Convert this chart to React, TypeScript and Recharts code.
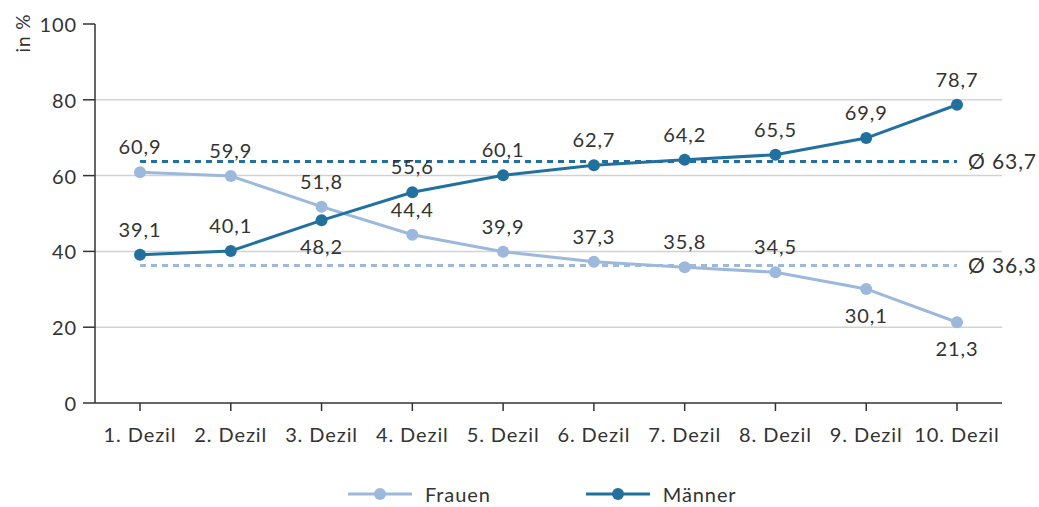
import React from "react";
import {
  LineChart,
  Line,
  XAxis,
  YAxis,
  CartesianGrid,
  ReferenceLine,
  LabelList,
  Legend,
} from "recharts";

const deciles = [
  "1. Dezil",
  "2. Dezil",
  "3. Dezil",
  "4. Dezil",
  "5. Dezil",
  "6. Dezil",
  "7. Dezil",
  "8. Dezil",
  "9. Dezil",
  "10. Dezil",
];
const frauen = [60.9, 59.9, 51.8, 44.4, 39.9, 37.3, 35.8, 34.5, 30.1, 21.3];
const maenner = [39.1, 40.1, 48.2, 55.6, 60.1, 62.7, 64.2, 65.5, 69.9, 78.7];
const avgFrauen = 36.3;
const avgMaenner = 63.7;
const yTicks = [0, 20, 40, 60, 80, 100];
const gridValues = [20, 40, 60, 80];
// indices whose value label sits below the point
const frauenBelow = [8, 9];
const maennerBelow = [2];

const FONT = "Lato, 'DejaVu Sans', sans-serif";
const SPACING = 0.9;
const TEXT = "#333333";
const LIGHT = "#9cb9dc";
const DARK = "#21709e";

const Y_AXIS_WIDTH = 95;
const Y_TICK_SIZE = 12;
const Y_TICK_MARGIN = 6;

const data = deciles.map((d, i) => ({
  name: d,
  frauen: frauen[i],
  maenner: maenner[i],
}));

const fmt = (v: number) => v.toFixed(1).replace(".", ",");

function makeLabel(below: number[]) {
  return (props: any) => {
    const { x, y, value, index } = props;
    const dy = below.includes(index) ? 26 : -26;
    return (
      <text
        x={x}
        y={y + dy}
        textAnchor="middle"
        dominantBaseline="central"
        fontSize={20}
        fontFamily={FONT}
        letterSpacing={SPACING}
        fill={TEXT}
      >
        {fmt(value)}
      </text>
    );
  };
}

function YTick(props: any) {
  const { y, payload } = props;
  const axisX = Y_AXIS_WIDTH;
  return (
    <g>
      <line
        x1={axisX - Y_TICK_SIZE}
        x2={axisX}
        y1={y}
        y2={y}
        stroke={TEXT}
        strokeWidth={1.5}
      />
      <text
        x={axisX - Y_TICK_SIZE - Y_TICK_MARGIN}
        y={y}
        textAnchor="end"
        dominantBaseline="central"
        fontSize={20}
        fontFamily={FONT}
        letterSpacing={SPACING}
        fill={TEXT}
      >
        {payload.value}
      </text>
    </g>
  );
}

function LegendContent() {
  const items = [
    { name: "Frauen", color: LIGHT, gap: 95 },
    { name: "Männer", color: DARK, gap: 0 },
  ];
  return (
    <div
      style={{
        width: 1039,
        height: 60,
        display: "flex",
        alignItems: "flex-end",
        paddingLeft: 348,
        boxSizing: "border-box",
        fontFamily: FONT,
        fontSize: 20,
        letterSpacing: SPACING,
        color: TEXT,
      }}
    >
      {items.map((it) => (
        <div
          key={it.name}
          style={{ display: "flex", alignItems: "center", marginRight: it.gap, height: 26 }}
        >
          <svg width={64} height={14} style={{ marginRight: 13 }}>
            <line x1={0} y1={7} x2={64} y2={7} stroke={it.color} strokeWidth={3} />
            <circle cx={32} cy={7} r={6} fill={it.color} />
          </svg>
          <span>{it.name}</span>
        </div>
      ))}
    </div>
  );
}

export default function App() {
  return (
    <div style={{ position: "absolute", left: 0, top: 0 }}>
      <LineChart
        width={1039}
        height={507}
        data={data}
        margin={{ top: 24, right: 37, left: 0, bottom: 0 }}
      >
        <CartesianGrid
          vertical={false}
          horizontalValues={gridValues}
          stroke="#d2d2d2"
          strokeWidth={1.5}
        />
        <XAxis
          dataKey="name"
          padding={{ left: 45, right: 45 }}
          height={44}
          tickSize={8}
          tickMargin={17}
          axisLine={{ stroke: TEXT, strokeWidth: 1.5 }}
          tickLine={{ stroke: TEXT, strokeWidth: 1.5 }}
          tick={{ fontSize: 20, fontFamily: FONT, fill: TEXT, letterSpacing: SPACING }}
          interval={0}
        />
        <YAxis
          domain={[0, 100]}
          ticks={yTicks}
          width={Y_AXIS_WIDTH}
          axisLine={{ stroke: TEXT, strokeWidth: 1.5 }}
          tickLine={false}
          tick={<YTick />}
          label={{
            content: () => (
              <text
                transform="translate(22,33) rotate(-90)"
                textAnchor="middle"
                dominantBaseline="central"
                fontSize={19}
                fontFamily={FONT}
                letterSpacing={SPACING}
                fill={TEXT}
              >
                in %
              </text>
            ),
          }}
        />
        <ReferenceLine
          segment={[
            { x: deciles[0], y: avgMaenner },
            { x: deciles[deciles.length - 1], y: avgMaenner },
          ]}
          stroke={DARK}
          strokeWidth={3}
          strokeDasharray="6 5"
          label={{
            value: "Ø 63,7",
            position: "right",
            offset: 11,
            fontSize: 21,
            fontFamily: FONT,
            letterSpacing: SPACING,
            fill: TEXT,
          }}
        />
        <ReferenceLine
          segment={[
            { x: deciles[0], y: avgFrauen },
            { x: deciles[deciles.length - 1], y: avgFrauen },
          ]}
          stroke={LIGHT}
          strokeWidth={3}
          strokeDasharray="6 5"
          label={{
            value: "Ø 36,3",
            position: "right",
            offset: 11,
            fontSize: 21,
            fontFamily: FONT,
            letterSpacing: SPACING,
            fill: TEXT,
          }}
        />
        <Legend
          verticalAlign="bottom"
          height={60}
          wrapperStyle={{ left: 0, width: 1039 }}
          content={() => <LegendContent />}
        />
        <Line
          dataKey="frauen"
          name="Frauen"
          stroke={LIGHT}
          strokeWidth={3}
          dot={{ r: 6, fill: LIGHT, stroke: LIGHT, strokeWidth: 0 }}
          activeDot={false}
          isAnimationActive={false}
        >
          <LabelList dataKey="frauen" content={makeLabel(frauenBelow)} />
        </Line>
        <Line
          dataKey="maenner"
          name="Männer"
          stroke={DARK}
          strokeWidth={3}
          dot={{ r: 6, fill: DARK, stroke: DARK, strokeWidth: 0 }}
          activeDot={false}
          isAnimationActive={false}
        >
          <LabelList dataKey="maenner" content={makeLabel(maennerBelow)} />
        </Line>
      </LineChart>
    </div>
  );
}
